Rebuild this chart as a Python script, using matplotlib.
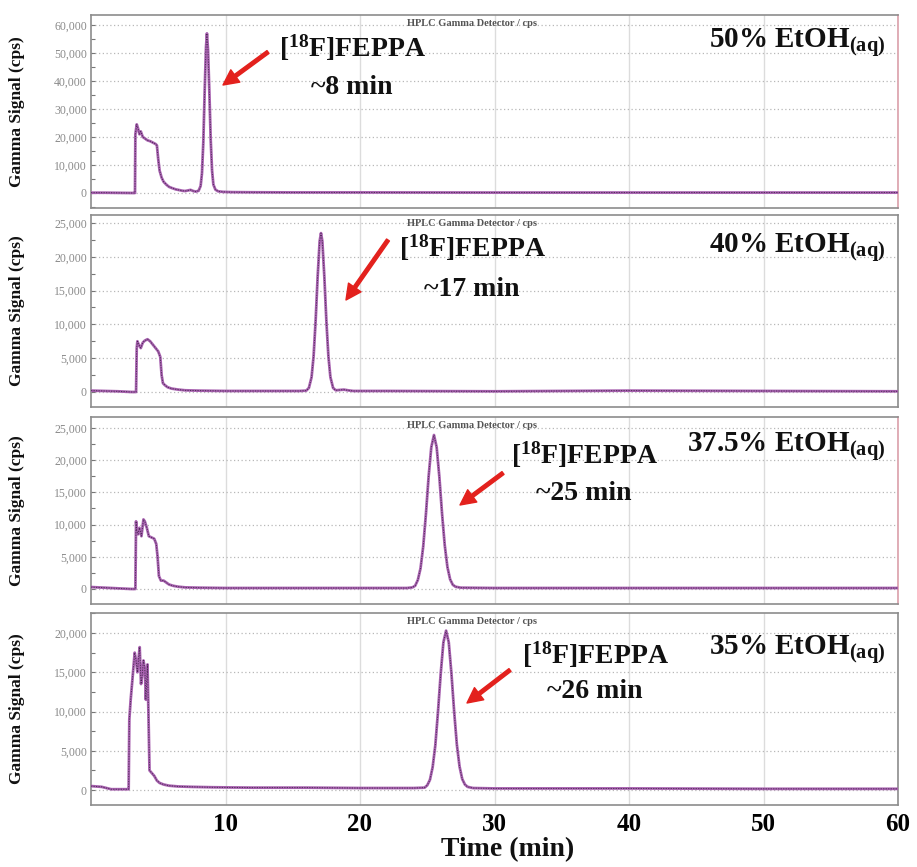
import matplotlib
matplotlib.use('Agg')
import matplotlib.pyplot as plt
from matplotlib.ticker import MultipleLocator, FuncFormatter

# Chromatogram traces (time in min, signal in cps)
t_50 = [0, 1, 2, 3.0, 3.2, 3.27, 3.3, 3.4, 3.5, 3.6, 3.7, 3.85, 4.0, 4.2, 4.4, 4.6, 4.8, 4.9, 5.0, 5.1,
        5.25, 5.4, 5.6, 5.8, 6.0, 6.3, 6.6, 6.8, 7.0, 7.2, 7.4, 7.6, 7.8, 8.0, 8.15, 8.25, 8.35, 8.45,
        8.55, 8.62, 8.7, 8.8, 8.9, 9.0, 9.1, 9.25, 9.45, 9.8, 10.5, 12, 15, 20, 30, 40, 50, 60]
s_50 = [100, 100, 50, 0, 0, 0, 21000, 24500, 23000, 21000, 22000, 20000, 19500, 18800, 18500, 18000,
        17500, 17000, 12000, 8000, 5500, 4000, 3000, 2200, 1800, 1300, 1000, 800, 700, 900, 1100, 700,
        500, 800, 2500, 7000, 18000, 36000, 52000, 57000, 51000, 36000, 19000, 8000, 3000, 1200, 600,
        400, 300, 250, 200, 200, 150, 150, 150, 150]

t_40 = [0, 1, 2, 3.0, 3.35, 3.4, 3.45, 3.55, 3.7, 3.85, 4.0, 4.2, 4.4, 4.6, 4.8, 5.0, 5.15, 5.25,
        5.35, 5.5, 5.7, 6.0, 6.5, 7.0, 8.0, 10, 12, 14, 15.5, 16.0, 16.2, 16.4, 16.55, 16.7, 16.85,
        17.0, 17.1, 17.2, 17.35, 17.5, 17.65, 17.8, 18.0, 18.2, 18.5, 18.8, 19.1, 19.5, 22, 30, 40, 50, 60]
s_40 = [200, 150, 100, 0, 0, 6500, 7500, 7000, 6500, 7300, 7600, 7800, 7500, 7000, 6500, 6000, 5200,
        2500, 1300, 1000, 700, 500, 350, 250, 200, 150, 150, 150, 150, 200, 600, 2200, 5300, 10500,
        17000, 22300, 23500, 22300, 17000, 10500, 5300, 2200, 600, 250, 300, 350, 250, 150, 150, 100,
        200, 150, 100]

t_375 = [0, 1, 2, 3.0, 3.3, 3.35, 3.4, 3.5, 3.6, 3.75, 3.9, 4.0, 4.15, 4.3, 4.5, 4.7, 4.85, 4.95,
         5.05, 5.2, 5.4, 5.6, 5.8, 6.1, 6.5, 7.0, 8.0, 10, 15, 20, 23.5, 23.9, 24.1, 24.3, 24.5, 24.7,
         24.9, 25.1, 25.3, 25.5, 25.7, 25.9, 26.1, 26.3, 26.5, 26.7, 26.9, 27.1, 27.5, 30, 40, 50, 60]
s_375 = [300, 200, 100, 0, 0, 10500, 9000, 8500, 9500, 8200, 10800, 10500, 9500, 8200, 8000, 7800,
         7000, 5000, 2000, 1300, 1300, 1000, 700, 500, 350, 250, 200, 150, 150, 150, 150, 250, 500,
         1400, 3200, 6600, 11600, 17400, 22000, 23900, 22000, 17400, 11700, 6800, 3400, 1500, 650,
         350, 200, 150, 150, 150, 150]

t_35 = [0, 0.8, 1.5, 2.7, 2.8, 2.85, 2.95, 3.1, 3.25, 3.35, 3.45, 3.55, 3.62, 3.72, 3.8, 3.9, 4.0,
        4.08, 4.2, 4.28, 4.35, 4.5, 4.7, 4.9, 5.1, 5.4, 5.8, 6.5, 7.5, 9, 12, 16, 20, 24.0, 24.8, 25.0,
        25.2, 25.4, 25.6, 25.8, 26.0, 26.2, 26.4, 26.6, 26.8, 27.0, 27.2, 27.4, 27.6, 27.8, 28.0, 28.4,
        30, 40, 50, 60]
s_35 = [500, 400, 100, 100, 100, 9000, 11500, 14500, 17500, 16500, 15000, 17000, 18200, 13500, 14500,
        16500, 15500, 11500, 16000, 9000, 2500, 2200, 1800, 1200, 900, 700, 550, 450, 400, 350, 300,
        300, 250, 250, 300, 600, 1300, 2900, 5700, 10000, 14800, 18800, 20300, 18800, 14800, 10000,
        5800, 3000, 1400, 700, 400, 250, 200, 200, 150, 150]

traces = [(t_50, s_50), (t_40, s_40), (t_375, s_375), (t_35, s_35)]
ylims = [(-5360, 63570), (-2220, 26180), (-2330, 26700), (-1910, 22550)]
ysteps = [10000, 5000, 5000, 5000]
solvents = ['50% EtOH$_{\\mathrm{(aq)}}$', '40% EtOH$_{\\mathrm{(aq)}}$',
            '37.5% EtOH$_{\\mathrm{(aq)}}$', '35% EtOH$_{\\mathrm{(aq)}}$']
ret_times = ['~8 min', '~17 min', '~25 min', '~26 min']
x_ticks = [10, 20, 30, 40, 50, 60]

W, H = 917, 867
plt.rcParams['font.family'] = ['Liberation Serif', 'DejaVu Serif']
plt.rcParams['mathtext.fontset'] = 'custom'
plt.rcParams['mathtext.rm'] = 'Liberation Serif:bold'
plt.rcParams['mathtext.it'] = 'Liberation Serif:bold'
plt.rcParams['mathtext.bf'] = 'Liberation Serif:bold'

fig = plt.figure(figsize=(W / 100, H / 100), dpi=100)


def fx(x):
    return x / W


def fy(y):
    return 1 - y / H


# panel boxes in pixels: (top, bottom)
boxes = [(15, 208), (215, 407), (417, 604), (613, 805)]
left, right = 91, 898

# label placements in pixels
feppa_pos = [(352, 48, 88), (472, 248, 290), (584, 455, 493), (595, 655, 692)]
arrows = [((268, 52), (223, 85)), ((388, 240), (346, 300)), ((503, 473), (460, 505)),
          ((510, 670), (467, 703))]
solvent_pos = [(885, 43), (885, 248), (885, 447), (885, 650)]

for i, ((t, s), (top, bot)) in enumerate(zip(traces, boxes)):
    ax = fig.add_axes([fx(left), fy(bot), fx(right - left), (bot - top) / H])
    ax.plot(t, s, color='#a862b0', lw=2.0, zorder=3)
    ax.plot(t, s, color='#45264d', lw=0.6, ls=(0, (1.5, 1.5)), zorder=4)
    ax.set_xlim(0, 60)
    ax.set_ylim(*ylims[i])
    ax.set_xticks(x_ticks)
    ax.yaxis.set_major_locator(MultipleLocator(ysteps[i]))
    ax.yaxis.set_minor_locator(MultipleLocator(ysteps[i] / 2))
    ax.yaxis.set_major_formatter(FuncFormatter(lambda v, p: f'{int(v):,}'))
    ax.grid(axis='x', color='#dcdcdc', lw=1.0)
    ax.grid(axis='y', color='#b8b8b8', lw=0.9, ls=(0, (1, 2)))
    ax.set_axisbelow(True)
    ax.tick_params(axis='y', which='both', direction='in', length=3, width=0.8, color='#777777',
                   labelsize=8.5, labelcolor='#8a8a8a', pad=3)
    ax.tick_params(axis='x', length=0)
    for sp in ax.spines.values():
        sp.set_color('#8c8c8c')
        sp.set_linewidth(1.2)
    if i in (0, 2):
        ax.spines['right'].set_color('#dba0aa')
    if i < 3:
        ax.set_xticklabels([])
    else:
        ax.tick_params(axis='x', labelsize=18, pad=6)
        for lab in ax.get_xticklabels():
            lab.set_fontweight('bold')

    ax.text(0.472, 0.955, 'HPLC Gamma Detector / cps', transform=ax.transAxes,
            ha='center', va='center', fontsize=7.5, fontweight='bold', color='#555555')

    fig.text(fx(17), fy((top + bot) / 2), 'Gamma Signal (cps)', rotation=90, ha='center',
             va='center', fontsize=12.5, fontweight='bold', color='#111111')

    cx, y1, y2 = feppa_pos[i]
    fig.text(fx(cx), fy(y1), '[$^{18}$F]FEPPA', ha='center', va='center', fontsize=20,
             fontweight='bold', color='#111111')
    fig.text(fx(cx), fy(y2), ret_times[i], ha='center', va='center', fontsize=20,
             fontweight='bold', color='#111111')
    sx, sy = solvent_pos[i]
    fig.text(fx(sx), fy(sy), solvents[i], ha='right', va='center', fontsize=21,
             fontweight='bold', color='#111111')

    (tx, ty), (hx, hy) = arrows[i]
    ax.annotate('', xy=(fx(hx), fy(hy)), xytext=(fx(tx), fy(ty)), xycoords='figure fraction',
                textcoords='figure fraction',
                arrowprops=dict(facecolor='#e3211d', edgecolor='#e3211d', width=2.5,
                                headwidth=11, headlength=11))

fig.text(fx(508), fy(850), 'Time (min)', ha='center', va='center', fontsize=20, fontweight='bold',
         color='#111111')

plt.savefig('out.png', dpi=100)
